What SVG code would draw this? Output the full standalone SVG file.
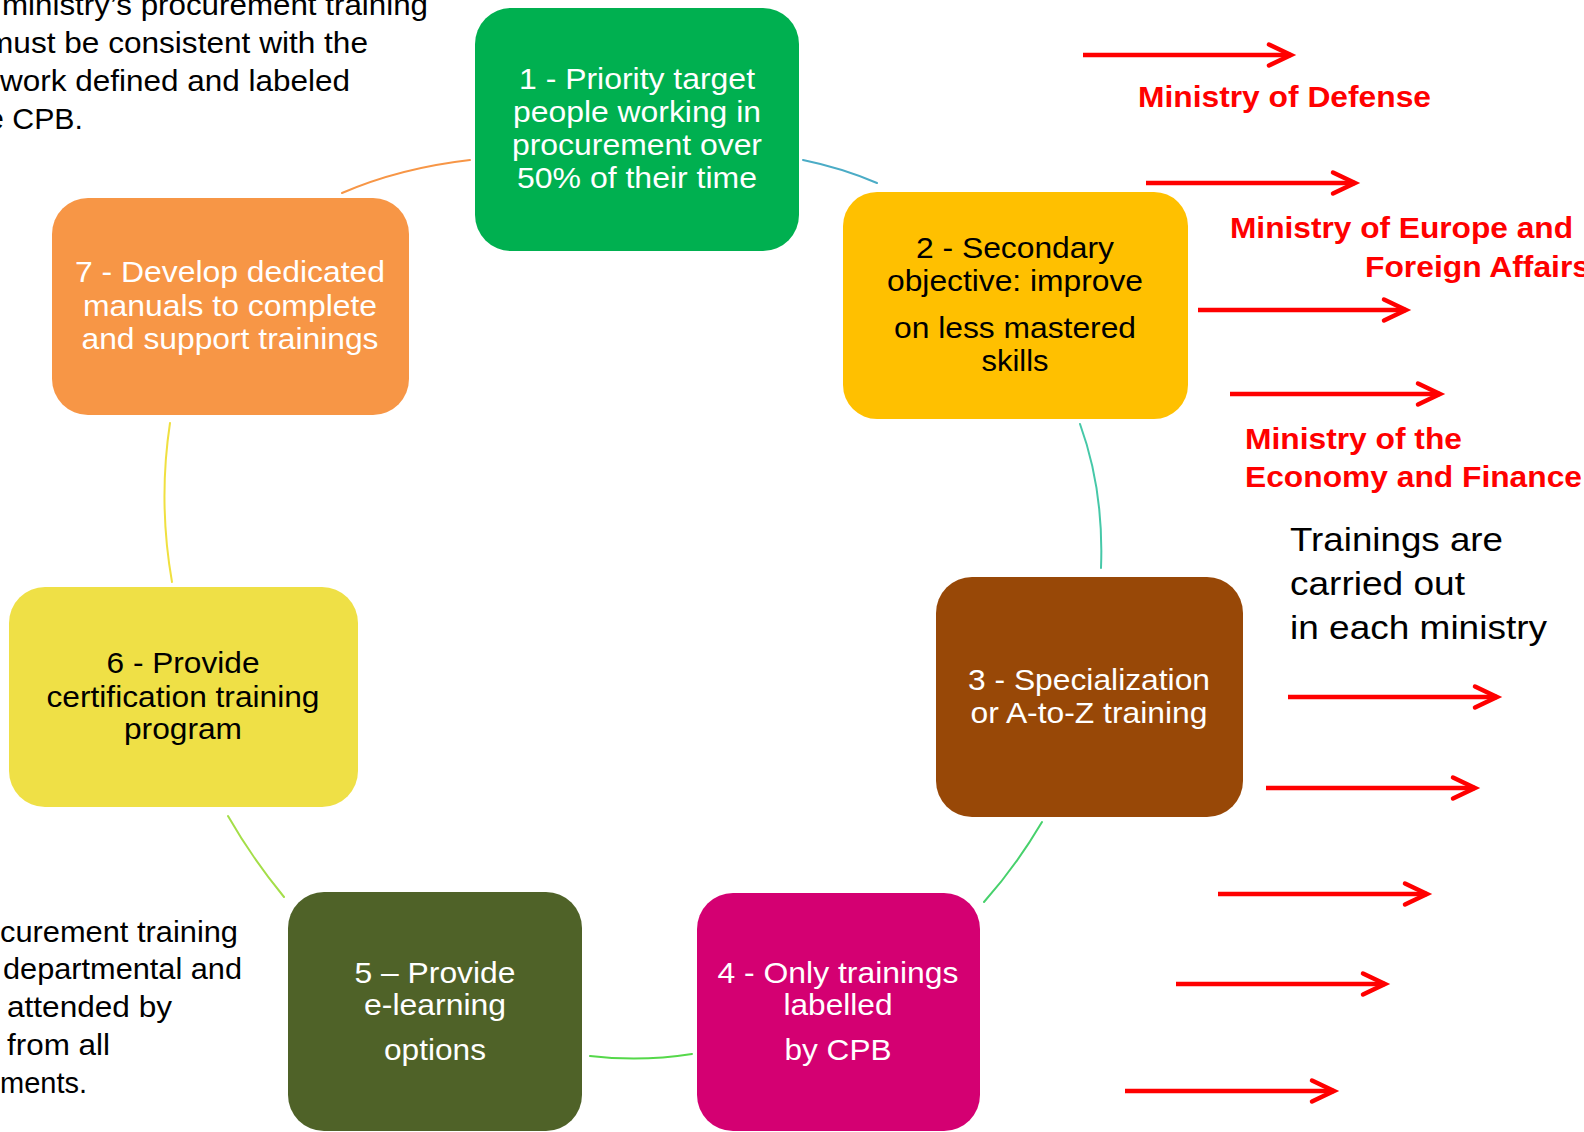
<svg xmlns="http://www.w3.org/2000/svg" width="1584" height="1132" viewBox="0 0 1584 1132">
  <defs>
    <style>
      text { font-family: "Liberation Sans", Arial, sans-serif; }
      .nt { font-size: 30px; text-anchor: middle; }
      .w { fill: #FFFFFF; }
      .k { fill: #000000; }
      .side { font-size: 30px; fill: #000000; }
      .big { font-size: 34px; fill: #000000; }
      .red { font-size: 30px; font-weight: bold; fill: #FF0000; }
      .arc { fill: none; stroke-width: 2; stroke-linecap: round; }
      .arrow { fill: none; stroke: #FF0000; stroke-width: 4.5; marker-end: url(#chev); }
    </style>
    <marker id="chev" markerUnits="userSpaceOnUse" viewBox="-30 -16 36 32" markerWidth="36" markerHeight="32" refX="0" refY="0" orient="auto">
      <path d="M-22,-10.5 L0,0 L-22,10.5" fill="none" stroke="#FF0000" stroke-width="4.5" stroke-linecap="round" stroke-linejoin="miter"/>
    </marker>
  </defs>

  <rect width="1584" height="1132" fill="#FFFFFF"/>

  <!-- ring connectors between the seven steps -->
  <g id="connectors">
    <path class="arc" stroke="#4BACC6" d="M803,160 Q842,168 877,183"/>
    <path class="arc" stroke="#46C8A8" d="M1080,424 Q1104,490 1101,568"/>
    <path class="arc" stroke="#47D16C" d="M1042,822 Q1016,866 984,902"/>
    <path class="arc" stroke="#55D84A" d="M692,1054 Q641,1062 590,1056"/>
    <path class="arc" stroke="#A4DE48" d="M284,897 Q252,858 228,816"/>
    <path class="arc" stroke="#F0E040" d="M172,582 Q158,502 170,423"/>
    <path class="arc" stroke="#F79646" d="M342,193 Q400,168 470,160"/>
  </g>

  <g id="node1">
    <rect x="475" y="8" width="324" height="243" rx="36" fill="#00B050"/>
    <text class="nt w" x="637" y="89" textLength="236" lengthAdjust="spacingAndGlyphs">1 - Priority target</text>
    <text class="nt w" x="637" y="122" textLength="248" lengthAdjust="spacingAndGlyphs">people working in</text>
    <text class="nt w" x="637" y="155" textLength="250" lengthAdjust="spacingAndGlyphs">procurement over</text>
    <text class="nt w" x="637" y="188" textLength="240" lengthAdjust="spacingAndGlyphs">50% of their time</text>
  </g>

  <g id="node2">
    <rect x="843" y="192" width="345" height="227" rx="34" fill="#FFC000"/>
    <text class="nt k" x="1015" y="258" textLength="198" lengthAdjust="spacingAndGlyphs">2 - Secondary</text>
    <text class="nt k" x="1015" y="291" textLength="256" lengthAdjust="spacingAndGlyphs">objective: improve</text>
    <text class="nt k" x="1015" y="338" textLength="242" lengthAdjust="spacingAndGlyphs">on less mastered</text>
    <text class="nt k" x="1015" y="371" textLength="67" lengthAdjust="spacingAndGlyphs">skills</text>
  </g>

  <g id="node3">
    <rect x="936" y="577" width="307" height="240" rx="36" fill="#984807"/>
    <text class="nt w" x="1089" y="690" textLength="242" lengthAdjust="spacingAndGlyphs">3 - Specialization</text>
    <text class="nt w" x="1089" y="723" textLength="237" lengthAdjust="spacingAndGlyphs">or A-to-Z training</text>
  </g>

  <g id="node4">
    <rect x="697" y="893" width="283" height="238" rx="36" fill="#D40072"/>
    <text class="nt w" x="838" y="983" textLength="241" lengthAdjust="spacingAndGlyphs">4 - Only trainings</text>
    <text class="nt w" x="838" y="1015" textLength="109" lengthAdjust="spacingAndGlyphs">labelled</text>
    <text class="nt w" x="838" y="1060" textLength="107" lengthAdjust="spacingAndGlyphs">by CPB</text>
  </g>

  <g id="node5">
    <rect x="288" y="892" width="294" height="239" rx="36" fill="#4F6228"/>
    <text class="nt w" x="435" y="983" textLength="161" lengthAdjust="spacingAndGlyphs">5 – Provide</text>
    <text class="nt w" x="435" y="1015" textLength="142" lengthAdjust="spacingAndGlyphs">e-learning</text>
    <text class="nt w" x="435" y="1060" textLength="102" lengthAdjust="spacingAndGlyphs">options</text>
  </g>

  <g id="node6">
    <rect x="9" y="587" width="349" height="220" rx="36" fill="#EFE046"/>
    <text class="nt k" x="183" y="673" textLength="153" lengthAdjust="spacingAndGlyphs">6 - Provide</text>
    <text class="nt k" x="183" y="707" textLength="273" lengthAdjust="spacingAndGlyphs">certification training</text>
    <text class="nt k" x="183" y="739" textLength="118" lengthAdjust="spacingAndGlyphs">program</text>
  </g>

  <g id="node7">
    <rect x="52" y="198" width="357" height="217" rx="36" fill="#F79646"/>
    <text class="nt w" x="230" y="282" textLength="310" lengthAdjust="spacingAndGlyphs">7 - Develop dedicated</text>
    <text class="nt w" x="230" y="316" textLength="294" lengthAdjust="spacingAndGlyphs">manuals to complete</text>
    <text class="nt w" x="230" y="349" textLength="297" lengthAdjust="spacingAndGlyphs">and support trainings</text>
  </g>

  <!-- note in the top-left corner, running off the left edge -->
  <g id="note-top">
    <text class="side" x="2" y="15" textLength="426" lengthAdjust="spacingAndGlyphs">ministry’s procurement training</text>
    <text class="side" x="-13" y="53" textLength="381" lengthAdjust="spacingAndGlyphs">must be consistent with the</text>
    <text class="side" x="0" y="91" textLength="350" lengthAdjust="spacingAndGlyphs">work defined and labeled</text>
    <text class="side" x="-13" y="129" textLength="96" lengthAdjust="spacingAndGlyphs">e CPB.</text>
  </g>

  <!-- note in the bottom-left corner, running off the left edge -->
  <g id="note-bottom">
    <text class="side" x="0" y="942" textLength="238" lengthAdjust="spacingAndGlyphs">curement training</text>
    <text class="side" x="3" y="979" textLength="239" lengthAdjust="spacingAndGlyphs">departmental and</text>
    <text class="side" x="7" y="1017" textLength="165" lengthAdjust="spacingAndGlyphs">attended by</text>
    <text class="side" x="7" y="1055" textLength="103" lengthAdjust="spacingAndGlyphs">from all</text>
    <text class="side" x="0" y="1093" textLength="87" lengthAdjust="spacingAndGlyphs">ments.</text>
  </g>

  <!-- ministries -->
  <g id="ministries">
    <text class="red" x="1138" y="107" textLength="293" lengthAdjust="spacingAndGlyphs">Ministry of Defense</text>
    <text class="red" x="1230" y="238" textLength="343" lengthAdjust="spacingAndGlyphs">Ministry of Europe and</text>
    <text class="red" x="1365" y="277" textLength="225" lengthAdjust="spacingAndGlyphs">Foreign Affairs</text>
    <text class="red" x="1245" y="449" textLength="217" lengthAdjust="spacingAndGlyphs">Ministry of the</text>
    <text class="red" x="1245" y="487" textLength="337" lengthAdjust="spacingAndGlyphs">Economy and Finance</text>
  </g>

  <g id="note-right">
    <text class="big" x="1290" y="551" textLength="213" lengthAdjust="spacingAndGlyphs">Trainings are</text>
    <text class="big" x="1290" y="595" textLength="175" lengthAdjust="spacingAndGlyphs">carried out</text>
    <text class="big" x="1290" y="639" textLength="257" lengthAdjust="spacingAndGlyphs">in each ministry</text>
  </g>

  <!-- red arrows -->
  <g id="arrows">
    <path class="arrow" d="M1083,55 H1291"/>
    <path class="arrow" d="M1146,183 H1355"/>
    <path class="arrow" d="M1198,310 H1406"/>
    <path class="arrow" d="M1230,394 H1440"/>
    <path class="arrow" d="M1288,697 H1497"/>
    <path class="arrow" d="M1266,788 H1475"/>
    <path class="arrow" d="M1218,894 H1427"/>
    <path class="arrow" d="M1176,984 H1385"/>
    <path class="arrow" d="M1125,1091 H1334"/>
  </g>
</svg>
